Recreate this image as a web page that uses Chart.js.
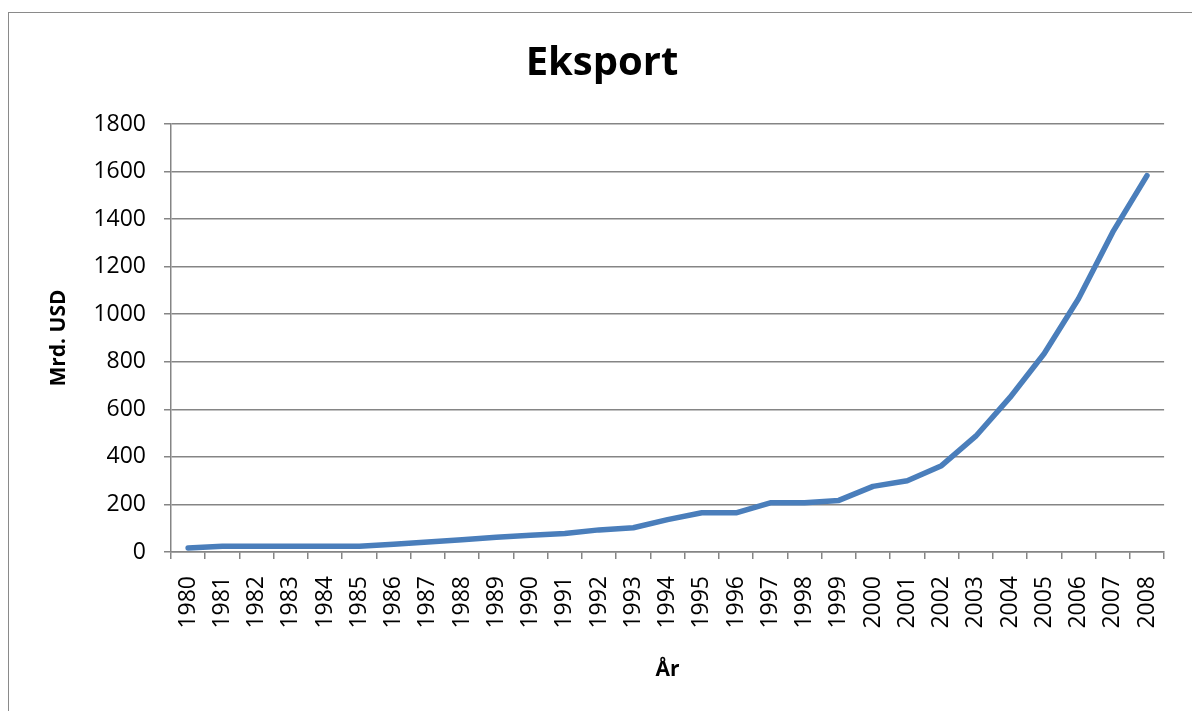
<!DOCTYPE html>
<html>
<head>
<meta charset="utf-8">
<script src="https://cdn.jsdelivr.net/npm/chart.js@4/dist/chart.umd.min.js"></script>
<style>
    html, body { margin: 0; padding: 0; background: #fff; overflow: hidden; }
    #wrap { position: relative; width: 1192px; height: 711px; }
    #frame {
        position: absolute; left: 8px; top: 12px; width: 1300px; height: 800px;
        border: 1px solid #8a8a8a; box-sizing: border-box;
    }
    #chart { position: absolute; left: 0; top: 0; }
</style>
</head>
<body>
<div id="wrap">
    <div id="frame"></div>
    <canvas id="chart" width="1192" height="711"></canvas>
</div>
<script>
const years = ['1980', '1981', '1982', '1983', '1984', '1985', '1986', '1987', '1988', '1989',
    '1990', '1991', '1992', '1993', '1994', '1995', '1996', '1997', '1998', '1999',
    '2000', '2001', '2002', '2003', '2004', '2005', '2006', '2007', '2008'];

// eksport, mrd. USD
const exports = [17, 24, 24, 24, 24, 24, 33, 42, 52, 62,
    70, 78, 93, 102, 136, 165, 165, 207, 207, 217,
    276, 300, 363, 487, 650, 835, 1065, 1345, 1583];

const yMin = 0;
const yMax = 1800;
const yStep = 200;

const font = 'Open Sans';
const gridColor = '#858585';

new Chart(document.getElementById('chart'), {
    type: 'line',
    data: {
        labels: years,
        datasets: [{
            label: 'Eksport',
            data: exports,
            borderColor: '#4a7ebb',
            borderWidth: 5.5,
            borderCapStyle: 'round',
            borderJoinStyle: 'round',
            pointRadius: 0,
            tension: 0,
            fill: false,
        }],
    },
    options: {
        responsive: false,
        devicePixelRatio: 1,
        animation: false,
        layout: { padding: { left: 37, right: 25, top: 0, bottom: 0 } },
        plugins: {
            legend: { display: false },
            tooltip: { enabled: false },
            title: {
                display: true,
                text: 'Eksport',
                color: '#000',
                font: { family: font, size: 40, weight: 'bold' },
                padding: { top: 40, bottom: 36 },
            },
        },
        scales: {
            x: {
                offset: true,
                afterFit: (scale) => { scale.height = 159; },
                border: { color: gridColor, width: 1.5 },
                grid: { drawOnChartArea: false, offset: true, tickLength: 7, color: gridColor, lineWidth: 1.5 },
                ticks: {
                    color: '#000',
                    font: { family: font, size: 23 },
                    minRotation: 90,
                    maxRotation: 90,
                    autoSkip: false,
                    padding: 17,
                },
                title: {
                    display: true,
                    text: 'År',
                    color: '#000',
                    font: { family: font, size: 21, weight: 'bold' },
                    padding: { top: 0, bottom: 28 },
                },
            },
            y: {
                min: yMin,
                max: yMax,
                afterFit: (scale) => { scale.width = 134; },
                border: { color: gridColor, width: 1.5 },
                grid: { color: gridColor, lineWidth: 1.5, tickLength: 7 },
                ticks: {
                    stepSize: yStep,
                    color: '#000',
                    font: { family: font, size: 23 },
                    padding: 18,
                    callback: (value) => String(value),
                },
                title: {
                    display: true,
                    text: 'Mrd. USD',
                    color: '#000',
                    font: { family: font, size: 21, weight: 'bold' },
                    padding: { top: 9, bottom: 0 },
                },
            },
        },
    },
});
</script>
</body>
</html>
